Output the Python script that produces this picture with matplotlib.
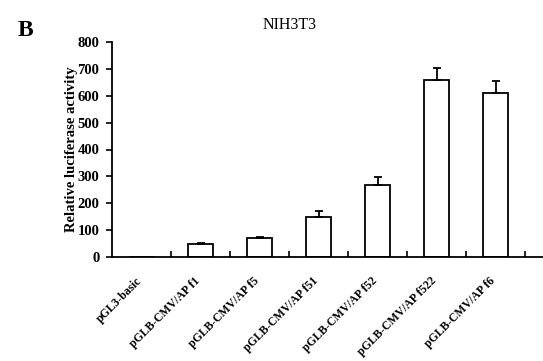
import numpy as np
import matplotlib
matplotlib.use("Agg")
from matplotlib import pyplot as plt
from matplotlib import transforms

labels = ["pGL3-basic", "pGLB-CMV/AP f1", "pGLB-CMV/AP f5", "pGLB-CMV/AP f51",
          "pGLB-CMV/AP f52", "pGLB-CMV/AP f522", "pGLB-CMV/AP f6"]
values = [0, 47, 72, 150, 268, 659, 609]
errors = [0, 4, 3, 22, 31, 45, 46]
yticks = [0, 100, 200, 300, 400, 500, 600, 700, 800]

plt.rcParams['font.family'] = ['Liberation Serif', 'DejaVu Serif']

fig = plt.figure(figsize=(5.43, 3.61), dpi=100)
# axis runs off the right edge, like the cropped original
ax = fig.add_axes([112 / 543, 104 / 361, 472 / 543, 215 / 361])

x = np.arange(len(labels))
ax.bar(x, values, width=0.41, color='white', edgecolor='black', linewidth=1.3)
ax.errorbar(x[1:], values[1:], yerr=[[0] * (len(x) - 1), errors[1:]], fmt='none',
            ecolor='black', elinewidth=1.3, capsize=3, capthick=1.3)

ax.set_xlim(-0.5, 7.5)
ax.set_ylim(0, 800)
ax.set_yticks(yticks)
ax.set_yticklabels([str(v) for v in yticks], fontweight='bold', fontsize=10.5)
ax.set_xticks(x)
ax.set_xticklabels(labels, rotation=45, ha='right', rotation_mode='anchor',
                   fontsize=8.5, fontweight='bold')
ax.tick_params(axis='x', which='major', length=0, pad=13)
# nudge the slanted labels a bit to the left
shift = transforms.ScaledTranslation(-6 / 100, 0, fig.dpi_scale_trans)
for lab in ax.get_xticklabels():
    lab.set_transform(lab.get_transform() + shift)
ax.set_xticks(np.arange(0.5, 8, 1), minor=True)
ax.tick_params(axis='x', which='minor', direction='in', length=4, width=1.2)
ax.tick_params(axis='y', direction='out', length=4, width=1.2, pad=5)

for s in ['top', 'right']:
    ax.spines[s].set_visible(False)
for s in ['left', 'bottom']:
    ax.spines[s].set_linewidth(1.3)

ax.set_ylabel("Relative luciferase activity", fontweight='bold', fontsize=10.5, labelpad=0)
fig.text(290 / 543, 1 - 25 / 361, "NIH3T3", ha='center', va='center', fontsize=11.5)
fig.text(25 / 543, 1 - 30 / 361, "B", ha='center', va='center', fontsize=17, fontweight='bold')

fig.savefig("out.png", dpi=100)
